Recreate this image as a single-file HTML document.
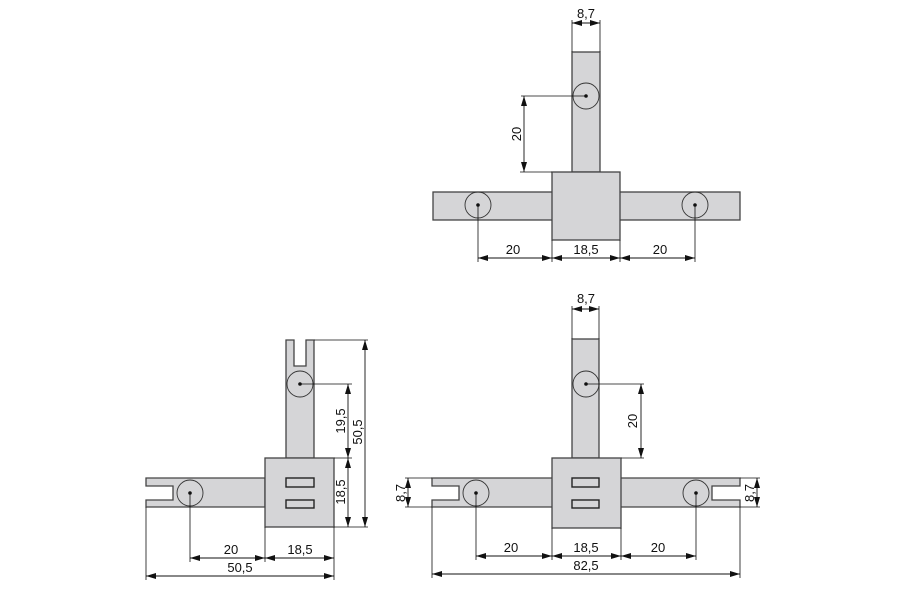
<!DOCTYPE html>
<html><head><meta charset="utf-8"><style>body{margin:0;background:#fff}svg{display:block}</style></head><body>
<svg width="900" height="600" viewBox="0 0 900 600" xmlns="http://www.w3.org/2000/svg" font-family="Liberation Sans, sans-serif" font-size="13" fill="#111">
<defs>
<marker id="a" viewBox="0 0 10 6" refX="10" refY="3" markerWidth="10" markerHeight="6" orient="auto-start-reverse" markerUnits="userSpaceOnUse"><path d="M0,0L10,3L0,6z" fill="#111"/></marker>
</defs>
<g fill="#d5d5d7" stroke="#444" stroke-width="1.3">
<rect x="572" y="52" width="28" height="120"/>
<rect x="433" y="192" width="307" height="28"/>
<rect x="552" y="172" width="68" height="68"/>
<path d="M286,340H294V366H306V340H314V458H286Z"/>
<path d="M146,478H265V507H146V500H173V486H146Z"/>
<rect x="265" y="458" width="69" height="69"/>
<rect x="572" y="339" width="27" height="119"/>
<path d="M432,478H740V486H712V500H740V507H432V500H459V486H432Z"/>
<rect x="552" y="458" width="69" height="70"/>
</g>
<g fill="none" stroke="#222" stroke-width="1.4">
<rect x="286" y="478" width="28" height="9"/><rect x="286" y="500" width="28" height="8"/>
<rect x="572" y="478" width="27" height="9"/><rect x="572" y="500" width="27" height="8"/>
</g>
<g fill="none" stroke="#333" stroke-width="0.9">
<circle cx="586" cy="96" r="13"/><circle cx="478" cy="205" r="13"/><circle cx="695" cy="205" r="13"/>
<circle cx="300" cy="384" r="13"/><circle cx="190" cy="493" r="13"/>
<circle cx="586" cy="384" r="13"/><circle cx="476" cy="493" r="13"/><circle cx="696" cy="493" r="13"/>
</g>
<g fill="#111">
<circle cx="586" cy="96" r="1.8"/><circle cx="478" cy="205" r="1.8"/><circle cx="695" cy="205" r="1.8"/>
<circle cx="300" cy="384" r="1.8"/><circle cx="190" cy="493" r="1.8"/>
<circle cx="586" cy="384" r="1.8"/><circle cx="476" cy="493" r="1.8"/><circle cx="696" cy="493" r="1.8"/>
</g>
<g stroke="#111" stroke-width="0.8" fill="none">
<path d="M572,20V52M600,20V52M521,96H586M520,172H552M478,205V262M552,240V262M620,240V262M695,205V262"/>
<path d="M314,340H368M300,384H352M334,458H352M334,527H368M190,493V562M265,527V562M334,527V580M146,507V580"/>
<path d="M572,306V339M599,306V339M586,384H644M621,458H644M405,478H432M405,507H432M740,478H760M740,507H760M476,493V560M552,528V560M621,528V560M696,493V560M432,507V578M740,507V578"/>
</g>
<g stroke="#111" stroke-width="0.9" marker-start="url(#a)" marker-end="url(#a)">
<line x1="572" y1="23" x2="600" y2="23"/>
<line x1="524" y1="96" x2="524" y2="172"/>
<line x1="478" y1="258" x2="552" y2="258"/><line x1="552" y1="258" x2="620" y2="258"/><line x1="620" y1="258" x2="695" y2="258"/>
<line x1="348" y1="384" x2="348" y2="458"/><line x1="348" y1="458" x2="348" y2="527"/><line x1="365" y1="340" x2="365" y2="527"/>
<line x1="190" y1="558" x2="265" y2="558"/><line x1="265" y1="558" x2="334" y2="558"/><line x1="146" y1="576" x2="334" y2="576"/>
<line x1="572" y1="309" x2="599" y2="309"/>
<line x1="641" y1="384" x2="641" y2="458"/>
<line x1="408" y1="478" x2="408" y2="507"/><line x1="757" y1="478" x2="757" y2="507"/>
<line x1="476" y1="556" x2="552" y2="556"/><line x1="552" y1="556" x2="621" y2="556"/><line x1="621" y1="556" x2="696" y2="556"/>
<line x1="432" y1="574" x2="740" y2="574"/>
</g>
<g text-anchor="middle">
<text x="586" y="18">8,7</text>
<text x="513" y="254">20</text><text x="586" y="254">18,5</text><text x="660" y="254">20</text>
<text x="231" y="554">20</text><text x="300" y="554">18,5</text><text x="240" y="572">50,5</text>
<text x="586" y="303">8,7</text>
<text x="511" y="552">20</text><text x="586" y="552">18,5</text><text x="658" y="552">20</text><text x="586" y="570">82,5</text>
<text transform="translate(521,134) rotate(-90)">20</text>
<text transform="translate(345,421) rotate(-90)">19,5</text>
<text transform="translate(345,492) rotate(-90)">18,5</text>
<text transform="translate(362,432) rotate(-90)">50,5</text>
<text transform="translate(637,421) rotate(-90)">20</text>
<text transform="translate(405,493) rotate(-90)">8,7</text>
<text transform="translate(754,493) rotate(-90)">8,7</text>
</g>
</svg>
</body></html>
